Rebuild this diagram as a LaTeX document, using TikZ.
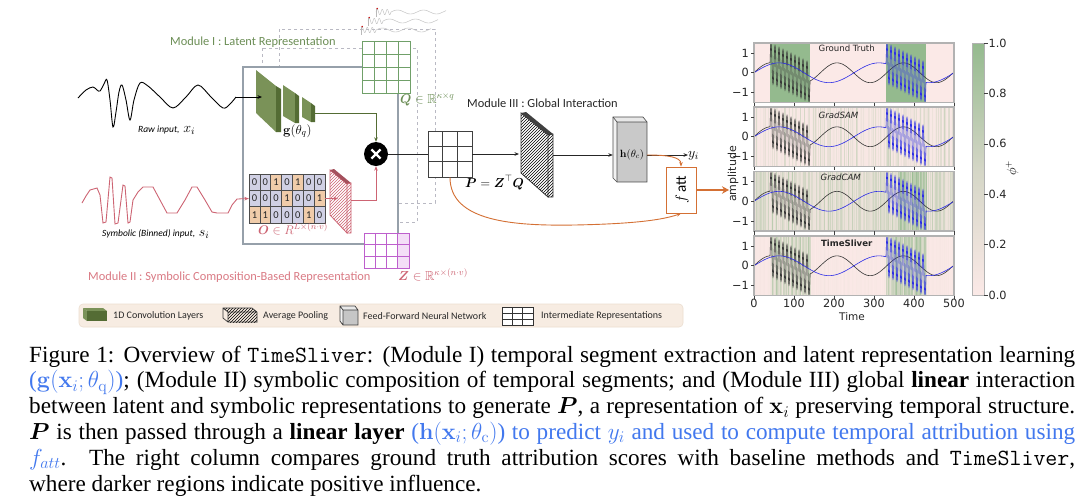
\documentclass[tikz,border=0pt]{standalone}
\usepackage{fix-cm}
\usepackage{amsmath,amssymb}
\usepackage[no-math]{fontspec}
\setmainfont{Liberation Serif}
\newfontfamily\dia{Carlito}
\newfontfamily\plt{DejaVu Sans}
\usetikzlibrary{arrows.meta,patterns,calc}
\definecolor{modg}{RGB}{108,142,86}
\definecolor{qg}{RGB}{112,160,105}
\definecolor{convL}{RGB}{122,146,88}
\definecolor{convD}{RGB}{84,108,52}
\definecolor{modr}{RGB}{218,122,132}
\definecolor{symr}{RGB}{205,100,115}
\definecolor{zmag}{RGB}{190,95,205}
\definecolor{zlt}{RGB}{244,222,247}
\definecolor{lav}{RGB}{208,208,228}
\definecolor{peach}{RGB}{240,204,170}
\definecolor{boxg}{RGB}{150,160,170}
\definecolor{dashg}{RGB}{185,185,195}
\definecolor{orng}{RGB}{212,112,52}
\definecolor{legbg}{RGB}{247,236,226}
\definecolor{legbd}{RGB}{236,222,208}
\definecolor{legtx}{RGB}{40,40,40}
\definecolor{pk}{RGB}{251,233,231}
\definecolor{gr}{RGB}{148,186,142}
\definecolor{cbmid}{RGB}{212,214,198}
\definecolor{cblue}{RGB}{66,120,238}
\definecolor{sigb}{RGB}{45,45,230}
\definecolor{sigk}{RGB}{55,55,55}
\definecolor{frm}{RGB}{178,178,178}
\begin{document}
\begin{tikzpicture}[x=1pt,y=-1pt,
  arr/.style={-{Stealth[length=4.5pt,width=3.6pt]}},
  modlbl/.style={inner sep=0, anchor=base west, font=\dia\fontsize{12.4}{14}\selectfont},
  inlbl/.style={inner sep=0, anchor=base west, font=\dia\itshape\fontsize{9.5}{11}\selectfont},
  mlbl/.style={inner sep=0, anchor=base west, font=\fontsize{13}{15}\selectfont},
  legt/.style={inner sep=0, anchor=west, font=\dia\fontsize{10}{12}\selectfont, text=legtx},
  tklbl/.style={inner sep=0, font=\plt\fontsize{11.3}{13}\selectfont, text=black!85},
  ttl/.style={inner sep=0, font=\plt\fontsize{8.6}{10}\selectfont, text=black!85},
  gridbox/.style={inner sep=0, fill=white, line width=0.9},
  cell/.style={inner sep=0, font=\dia\fontsize{10.5}{12}\selectfont, text=black!85}
]
\useasboundingbox (0,0) rectangle (1080,499);
\fill[white] (0,0) rectangle (1080,499);

% ---------------- dashed stacked outlines ----------------
\draw[dashg, dashed, line width=0.6] (279,29) rectangle (435,203);
\draw[dashg, dashed, line width=0.6] (262,48) rectangle (417,222);
% main module box
\draw[boxg, fill=white, line width=1.1] (243,67) rectangle (398,244);

% small segment waveforms above Q
\foreach \xo/\yo in {376/12, 368/21, 361/30} {
  \draw[gray!50, line width=0.45] plot[domain=0:15, samples=60, variable=\u] ({\xo+\u},{\yo-2.6*sin(72*\u)}) -- plot[domain=15:70, samples=45, variable=\u] ({\xo+\u},{\yo-2*sin((\u-15)*13.846)});
  \draw[gray!55, line width=0.45] (\xo,\yo-3) -- (\xo,\yo+5);
  \fill[red!75!black] (\xo+1.2,\yo-3.5) circle (0.8);
}

% ---------------- Q grid ----------------
\node[gridbox, draw=qg, minimum width=48pt, minimum height=52pt] (Q) at (386,67) {};
\foreach \xx in {374,386,398} \draw[qg, line width=0.8] (\xx,41) -- (\xx,93);
\foreach \yy in {54,67,80} \draw[qg, line width=0.8] (362,\yy) -- (410,\yy);
\node[mlbl, text=modg] (Qlbl) at (400,103.5) {$\boldsymbol{Q}\in\mathbb{R}^{\kappa\times q}$};

% ---------------- Z grid ----------------
\node[gridbox, draw=zmag, minimum width=45pt, minimum height=35pt] (Z) at (386.5,250.5) {};
\fill[zlt] (397.75,233) rectangle (409,268);
\foreach \xx in {375.25,386.5,397.75} \draw[zmag, line width=0.8] (\xx,233) -- (\xx,268);
\foreach \yy in {244.67,256.33} \draw[zmag, line width=0.8] (364,\yy) -- (409,\yy);
\draw[zmag, line width=0.9] (364,233) rectangle (409,268);
\node[mlbl, text=symr] (Zlbl) at (398,280) {$\boldsymbol{Z}\in\mathbb{R}^{\kappa\times(n\cdot v)}$};

% ---------------- Module labels ----------------
\node[modlbl, text=modg] (m1) at (170,45.7) {Module I : Latent Representation};
\node[modlbl, text=modr] (m2) at (88,280) {Module II : Symbolic Composition-Based Representation};
\node[modlbl, text=black!85] (m3) at (467,107.3) {Module III : Global Interaction};

% ---------------- Raw input ----------------
\draw[black, line width=0.9] plot[smooth, tension=0.55] coordinates {(78,98) (86,90) (93,87) (97,90) (100,91) (104,84) (107,80) (110,100) (113,127) (116,112) (119,92) (122,85) (126,100) (130,120) (134,100) (140,83) (148,86) (160,97) (173,108) (186,97) (198,85) (211,97) (223,108) (230,104) (236,97)} coordinate (rawend);
\node[inlbl] (rawlbl) at (138,132.7) {Raw input,\, \fontsize{14}{16}\selectfont$x_i$};

% conv blocks
\fill[convL] (256,70) -- (276,86) -- (276,132) -- (256,113) -- cycle;
\fill[convD] (276,86) -- (281,89) -- (281,132) -- (276,132) -- cycle;
\fill[convL] (283,85) -- (295,93) -- (295,123) -- (283,116) -- cycle;
\fill[convD] (295,93) -- (299,96) -- (299,123) -- (295,123) -- cycle;
\fill[convL] (302,97) -- (311,103) -- (311,122) -- (302,117) -- cycle;
\fill[convD] (311,103) -- (315,106) -- (315,122) -- (311,122) -- cycle;
\coordinate (g1in) at (262,97);
\coordinate (g3out) at (315,113);
\node[mlbl] (glbl) at (283,134) {$\mathbf{g}(\theta_q)$};
\draw[black, line width=0.8, arr] (rawend) -- (g1in);

% multiply node
\node[circle, fill=black, minimum size=24pt, inner sep=0] (mul) at (376,154) {};
\draw[white, line width=2.3] ($(mul)+(-4.6,-4.6)$) -- ($(mul)+(4.6,4.6)$);
\draw[white, line width=2.3] ($(mul)+(-4.6,4.6)$) -- ($(mul)+(4.6,-4.6)$);
\draw[convD, line width=0.9, arr] (g3out) -| (mul.north);

% ---------------- Symbolic input ----------------
\draw[symr, line width=0.9] (82,203) -- (86,196) -- (90,190) -- (97,188) -- (100,195) -- (103,223) -- (106,222) -- (110,177) -- (112,178) -- (115,224) -- (118,223) -- (123,185) -- (125,186) -- (128,223) -- (130,222) -- (133,200) -- (138,192) -- (143,187) -- (153,187) -- (160,200) -- (167,213) -- (177,213) -- (185,200) -- (192,187) -- (197,187) -- (205,200) -- (212,212) -- (217,213) -- (228,213) -- (232,205) -- (237,199) coordinate (symend);
\node[inlbl] (symlbl) at (102,236) {Symbolic (Binned) input,\, \fontsize{14}{16}\selectfont$s_i$};

% O matrix
\node[inner sep=0, minimum width=76pt, minimum height=49pt] (O) at (287,198.5) {};
\foreach \row [count=\r from 0] in {{0,0,1,0,1,0,0},{0,0,0,1,0,0,1},{1,1,0,0,0,1,0}} {
  \foreach \v [count=\c from 0] in \row {
    \ifnum\v=1 \colorlet{cellc}{peach}\else\colorlet{cellc}{lav}\fi
    \filldraw[fill=cellc, draw=black!70, line width=0.7] ({249+\c*10.857},{174+\r*16.333}) rectangle ++(10.857,16.333);
    \node[cell] at ({249+(\c+0.5)*10.857},{174+(\r+0.5)*16.333}) {\v};
  }
}
\draw[black!70, line width=0.9] (249,174) rectangle (325,223);
\node[mlbl, text=symr, font=\fontsize{12.5}{14}\selectfont] (Olbl) at (258,234) {$\boldsymbol{O}\in R^{L\times(n\cdot v)}$};
\draw[symr, line width=0.8, arr] (symend) -- (O.west);

% red pooling
\fill[pattern=north east lines, pattern color=symr] (330,170) -- (347,184) -- (347,233) -- (330,215) -- cycle;
\draw[symr, line width=0.8] (330,170) -- (347,184) -- (347,233) -- (330,215) -- cycle;
\fill[symr!80!black] (330,170) -- (334,169) -- (351,183) -- (347,184) -- cycle;
\fill[pattern=north east lines, pattern color=symr] (347,184) -- (351,183) -- (351,233) -- (347,233) -- cycle;
\draw[symr, line width=0.8] (347,184) -- (351,183) -- (351,233) -- (347,233);
\coordinate (poolin) at (338,198.5);
\coordinate (poolout) at (351,200);
\draw[symr, line width=0.8, arr] (O.east) -- (poolin);
\draw[symr, line width=0.9, arr] (poolout) -| (mul.south);

% ---------------- P grid ----------------
\node[gridbox, draw=black!75, minimum width=44pt, minimum height=46pt] (P) at (450,154) {};
\foreach \xx in {442.67,457.33} \draw[black!75, line width=0.8] (\xx,131) -- (\xx,177);
\foreach \yy in {146.33,161.67} \draw[black!75, line width=0.8] (428,\yy) -- (472,\yy);
\draw[black!85, line width=0.9] (mul.east) -- (P.west);
\node[mlbl] (Plbl) at (465,187.3) {$\boldsymbol{P}=\boldsymbol{Z}^{\top}\boldsymbol{Q}$};

% black pooling
\fill[pattern=north east lines, pattern color=black] (521,113) -- (548,135) -- (548,197) -- (521,173) -- cycle;
\draw[black!80, line width=0.8] (521,113) -- (548,135) -- (548,197) -- (521,173) -- cycle;
\fill[black!75] (521,113) -- (526,112) -- (553,134) -- (548,135) -- cycle;
\fill[pattern=north east lines, pattern color=black] (548,135) -- (553,134) -- (553,197) -- (548,197) -- cycle;
\draw[black!80, line width=0.8] (548,135) -- (553,134) -- (553,197) -- (548,197);
\coordinate (slabin) at (519,154);
\coordinate (slabout) at (553,155);
\draw[black!85, line width=0.8, arr] (P.east) -- (slabin);

% h cube
\fill[gray!18] (613,117) -- (643,117) -- (647,122) -- (617,122) -- cycle;
\fill[gray!10] (613,117) -- (617,122) -- (617,182) -- (613,178) -- cycle;
\fill[gray!42] (617,122) rectangle (647,182);
\draw[black!70, line width=0.7] (613,117) -- (643,117) -- (647,122) -- (647,182) -- (617,182) -- (613,178) -- cycle;
\draw[black!70, line width=0.7] (613,117) -- (617,122) -- (647,122) (617,122) -- (617,182);
\node[inner sep=0, minimum width=34pt, minimum height=65pt] (h) at (630,150) {};
\node[inner sep=0, anchor=base, font=\fontsize{10.5}{12}\selectfont] (hlbl) at (632,157) {$\mathbf{h}(\theta_c)$};
\draw[black!85, line width=0.8, arr] (slabout) -- (h.west |- slabout);
\coordinate (hout) at (647,155);
\node[inner sep=0, anchor=base west, font=\fontsize{14}{16}\selectfont] (y) at (688,157) {$y_i$};
\draw[black!85, line width=0.8, arr] (hout) -- (y.west |- hout);

% f_att
\node[draw=orng, fill=white, line width=0.9, minimum width=30pt, minimum height=46pt, inner sep=0] (fatt) at (681,190) {};
\node[rotate=90, inner sep=0, font=\dia\fontsize{15}{17}\selectfont] (fattlbl) at (682,190) {$f$\,att};
\draw[orng, line width=0.9, arr] (hout) .. controls (668,155) and (681,157) .. (fatt.north);
\draw[orng, line width=0.9, arr] (P.south) .. controls (450,222) and (515,226) .. (575,225) .. controls (625,224) and (660,221) .. (fatt.south);
\coordinate (plotin) at (729,190);
\draw[orng, line width=2.6, -{Stealth[length=7pt,width=7.5pt]}] (fatt.east) -- (plotin);

% ---------------- Legend ----------------
\draw[fill=legbg, draw=legbd, rounded corners=4pt, line width=0.6] (79,304) rectangle (683,327);
\fill[convL] (83,308) -- (87,311) -- (87,321) -- (83,318) -- cycle;
\fill[convL] (83,308) -- (103,308) -- (107,311) -- (87,311) -- cycle;
\fill[convD] (87,311) rectangle (107,321);
\node[legt] (lg1) at (113,316) {1D Convolution Layers};
\fill[pattern=north east lines, pattern color=black] (223,308) -- (252,308) -- (257,312) -- (228,312) -- cycle;
\fill[pattern=north east lines, pattern color=black] (228,312) rectangle (257,322);
\draw[black!80, line width=0.7] (223,308) -- (252,308) -- (257,312) -- (257,322) -- (228,322) -- (223,318) -- cycle (223,308) -- (228,312) -- (257,312) (228,312) -- (228,322);
\node[legt] (lg2) at (263,316) {Average Pooling};
\fill[gray!18] (340,306) -- (355,306) -- (358,310) -- (343,310) -- cycle;
\fill[gray!10] (340,306) -- (343,310) -- (343,325) -- (340,321) -- cycle;
\fill[gray!45] (343,310) rectangle (358,325);
\draw[black!75, line width=0.7] (340,306) -- (355,306) -- (358,310) -- (358,325) -- (343,325) -- (340,321) -- cycle (340,306) -- (343,310) -- (358,310) (343,310) -- (343,325);
\node[legt] (lg3) at (363,316) {Feed-Forward Neural Network};
\draw[black!80, line width=0.7, fill=white] (502,307) rectangle (533,325);
\foreach \xx in {512.33,522.67} \draw[black!80, line width=0.7] (\xx,307) -- (\xx,325);
\foreach \yy in {313,319} \draw[black!80, line width=0.7] (502,\yy) -- (533,\yy);
\node[legt] (lg4) at (541,316) {Intermediate Representations};

% ---------------- Right plots ----------------
\foreach \T in {43,107,171.5,236} \fill[pk] (754,\T) rectangle (954,\T+59.5);
\fill[gr] ({754+0.4*40},43) rectangle ({754+0.4*140},102.5);
\fill[gr] ({754+0.4*330},43) rectangle ({754+0.4*430},102.5);
\pgfmathsetseed{17}
\foreach \t in {0,2,...,498}{
  \pgfmathsetmacro\rr{rnd}
  \pgfmathsetmacro\op{0.02+0.30*\rr*\rr*\rr*\rr+(\t>329)*(\t<341)*0.2}
  \fill[gr, opacity=\op] ({754+0.4*\t},107) rectangle ++(0.8,59.5);
}
\foreach \t in {0,2,...,498}{
  \pgfmathsetmacro\rr{rnd}
  \pgfmathsetmacro\op{0.12+0.32*\rr*\rr+(\t>359)*(\t<431)*(0.22+0.2*\rr)}
  \fill[gr, opacity=\op] ({754+0.4*\t},171.5) rectangle ++(0.8,59.5);
}
\foreach \t in {0,2,...,498}{
  \pgfmathsetmacro\rr{rnd}
  \pgfmathsetmacro\op{0.03*\rr+(\t>39)*(\t<141)*(0.08+0.38*\rr)+(\t>329)*(\t<431)*(0.2+0.45*\rr)}
  \fill[gr, opacity=\op] ({754+0.4*\t},236) rectangle ++(0.8,59.5);
}
\foreach \T [count=\k] in {43,107,171.5,236} {
  \pgfmathsetmacro\C{\T+29.75}
  \draw[sigk, line width=0.6] plot[domain=0:40, samples=25, variable=\t] ({754+0.4*\t},{\C-9.9*sin(\t*2.16867)}) -- plot[domain=40:140, samples=241, variable=\t] ({754+0.4*\t},{\C-19.8*(0.5-(\t-40)/100+sin(36*(\t-40)))}) -- plot[domain=140:500, samples=120, variable=\t] ({754+0.4*\t},{\C-9.9*sin(\t*2.16867)});
  \draw[sigb, line width=0.6] plot[domain=0:330, samples=110, variable=\t] ({754+0.4*\t},{\C-9.9*sin(\t*1.44)}) -- plot[domain=330:430, samples=241, variable=\t] ({754+0.4*\t},{\C-19.8*(0.5-(\t-330)/100+sin(36*(\t-330)))}) -- plot[domain=430:500, samples=30, variable=\t] ({754+0.4*\t},{\C-9.9*sin(\t*1.44)});
  \draw[frm, line width=1.2] (754,\T) rectangle (954,\T+59.5);
  \foreach \v/\s in {1/1,0/0,-1/−1} {
    \draw[black!75, line width=0.6] (754,{\C-19.8*\v}) -- (750.5,{\C-19.8*\v});
    \node[tklbl, anchor=east] at (749,{\C-19.8*\v}) {\s};
  }
  \foreach \i in {0,...,5} \draw[black!75, line width=0.6] ({754+40*\i},\T+59.5) -- ++(0,3.5);
}
\foreach \i in {0,...,5} { \pgfmathtruncatemacro\lab{100*\i} \node[tklbl] at ({754+40*\i},303) {\lab}; }
\node[tklbl, font=\plt\fontsize{10.5}{12}\selectfont] (tlbl) at (852,317) {Time};
\node[tklbl, rotate=90, font=\plt\fontsize{11}{12}\selectfont] (alabel) at (733,174) {amplitude};
\node[ttl] (t1) at (846.7,48.5) {Ground Truth};
\node[ttl, font=\plt\itshape\fontsize{8.6}{10}\selectfont] (t2) at (838.5,115) {GradSAM};
\node[ttl, font=\plt\itshape\fontsize{8.6}{10}\selectfont] (t3) at (840.7,177) {GradCAM};
\node[ttl, font=\plt\bfseries\fontsize{8.6}{10}\selectfont] (t4) at (846.7,243) {TimeSliver};

% colorbar
\shade[bottom color=pk, top color=gr, middle color=cbmid] (972,43) rectangle (984,295);
\draw[frm, line width=0.8] (972,43) rectangle (984,295);
\foreach \v in {0.0,0.2,0.4,0.6,0.8,1.0} {
  \draw[black!75, line width=0.6] (984,{295-252*\v}) -- (987.5,{295-252*\v});
  \node[tklbl, anchor=west] at (988.5,{295-252*\v}) {\v};
}
\node[rotate=90, inner sep=0, font=\fontsize{13}{15}\selectfont] (phi) at (1012,168) {$\phi^{+}$};

% ---------------- Caption ----------------
\node[anchor=base west, inner sep=0, text width=1046pt, align=justify, font=\fontsize{23.2}{25.8}\selectfont] (cap) at (29,362) {\noindent Figure 1: Overview of \texttt{TimeSliver}: (Module I) temporal segment extraction and latent representation learning\linebreak
\textcolor{cblue}{($\mathbf{g}(\mathbf{x}_i;\theta_{\mathrm{q}})$)}; (Module II) symbolic composition of temporal segments; and (Module III) global \textbf{linear} interaction\linebreak
between latent and symbolic representations to generate $\boldsymbol{P}$, a representation of $\mathbf{x}_i$ preserving temporal structure.\linebreak
$\boldsymbol{P}$ is then passed through a \textbf{linear layer} \textcolor{cblue}{($\mathbf{h}(\mathbf{x}_i;\theta_{\mathrm{c}})$) to predict $y_i$ and used to compute temporal attribution using}\linebreak
\textcolor{cblue}{$f_{att}$}. The right column compares ground truth attribution scores with baseline methods and \texttt{TimeSliver},\linebreak
where darker regions indicate positive influence.};
\end{tikzpicture}
\end{document}
